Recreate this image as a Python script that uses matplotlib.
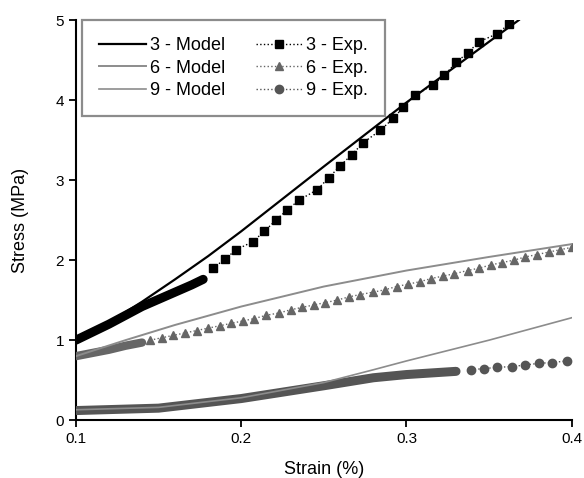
import matplotlib
matplotlib.use("Agg")
import matplotlib.pyplot as plt

plt.rcParams["font.family"] = ["Liberation Sans", "DejaVu Sans"]

# model curves
m3_x = [0.10, 0.12, 0.14, 0.16, 0.18, 0.20, 0.25, 0.30, 0.35, 0.368]
m3_y = [1.00, 1.22, 1.48, 1.76, 2.05, 2.36, 3.17, 3.97, 4.73, 5.00]
m6_x = [0.10, 0.13, 0.16, 0.20, 0.25, 0.30, 0.35, 0.40]
m6_y = [0.80, 1.00, 1.19, 1.42, 1.67, 1.87, 2.04, 2.20]
m9_x = [0.10, 0.15, 0.20, 0.25, 0.28, 0.30, 0.35, 0.40]
m9_y = [0.13, 0.16, 0.28, 0.47, 0.63, 0.74, 1.00, 1.28]

# experiments - dense part at low strain
e3d_x = [0.100, 0.110, 0.120, 0.130, 0.140, 0.150, 0.160, 0.170, 0.177]
e3d_y = [1.00, 1.10, 1.20, 1.31, 1.42, 1.51, 1.60, 1.69, 1.76]
e6d_x = [0.100, 0.110, 0.120, 0.130, 0.140]
e6d_y = [0.80, 0.84, 0.88, 0.93, 0.97]
e9d_x = [0.10, 0.15, 0.20, 0.25, 0.28, 0.30, 0.33]
e9d_y = [0.12, 0.15, 0.27, 0.43, 0.53, 0.57, 0.61]

# experiments - sparse markers
e3_x = [0.183, 0.190, 0.197, 0.207, 0.214, 0.221, 0.228, 0.235, 0.246, 0.253,
        0.260, 0.267, 0.274, 0.284, 0.292, 0.298, 0.305, 0.316, 0.323, 0.330,
        0.337, 0.344, 0.355, 0.362]
e3_y = [1.90, 2.01, 2.13, 2.23, 2.36, 2.50, 2.63, 2.75, 2.88, 3.03,
        3.18, 3.32, 3.47, 3.62, 3.77, 3.91, 4.06, 4.19, 4.31, 4.47,
        4.59, 4.73, 4.83, 4.95]
e6_x = [0.145, 0.152, 0.159, 0.166, 0.173, 0.180, 0.187, 0.194, 0.201, 0.208,
        0.215, 0.223, 0.230, 0.237, 0.244, 0.251, 0.258, 0.265, 0.272, 0.280,
        0.287, 0.294, 0.301, 0.308, 0.315, 0.322, 0.329, 0.337, 0.344, 0.351,
        0.358, 0.365, 0.372, 0.379, 0.386, 0.393, 0.400]
e6_y = [1.00, 1.03, 1.06, 1.09, 1.12, 1.15, 1.18, 1.21, 1.24, 1.27,
        1.31, 1.34, 1.38, 1.41, 1.44, 1.47, 1.50, 1.54, 1.57, 1.60,
        1.63, 1.67, 1.70, 1.73, 1.77, 1.80, 1.83, 1.87, 1.90, 1.94,
        1.97, 2.00, 2.04, 2.07, 2.10, 2.13, 2.16]
e9_x = [0.339, 0.347, 0.355, 0.364, 0.372, 0.380, 0.388, 0.397]
e9_y = [0.63, 0.645, 0.66, 0.67, 0.69, 0.71, 0.72, 0.74]

black = "black"
gray6 = "#666666"
gray9 = "#555555"
lgray = "#8c8c8c"

fig = plt.figure(figsize=(5.84, 4.78), dpi=100)
ax = fig.add_axes([0.130, 0.121, 0.849, 0.837])

# dense bands (drawn as thick strokes)
ax.plot(e3d_x, e3d_y, color=black, lw=6.5, solid_capstyle="round", zorder=3)
ax.plot(e6d_x, e6d_y, color=gray6, lw=6, solid_capstyle="round", zorder=3)
ax.plot(e9d_x, e9d_y, color=gray9, lw=6.5, solid_capstyle="round", zorder=3)

l1, = ax.plot(m3_x, m3_y, color=black, lw=1.6, zorder=4)
l2, = ax.plot(m6_x, m6_y, color=lgray, lw=1.4, zorder=4)
l3, = ax.plot(m9_x, m9_y, color=lgray, lw=1.2, zorder=4)

p1, = ax.plot(e3_x, e3_y, ls=":", color=black, marker="s", ms=5.5, lw=1, zorder=3)
p2, = ax.plot(e6_x, e6_y, ls=":", color=gray6, marker="^", ms=5.5, lw=1, zorder=3)
p3, = ax.plot(e9_x, e9_y, ls=":", color=gray9, marker="o", ms=6, lw=1, zorder=3)

ax.set_xlim(0.1, 0.4)
ax.set_ylim(0, 5)
ax.set_xticks([0.1, 0.2, 0.3, 0.4])
ax.set_xticklabels(["0.1", "0.2", "0.3", "0.4"])
ax.set_yticks([0, 1, 2, 3, 4, 5])
ax.spines["top"].set_visible(False)
ax.spines["right"].set_visible(False)
for s in ["left", "bottom"]:
    ax.spines[s].set_linewidth(1.5)
ax.tick_params(direction="out", length=5, width=1.3, labelsize=11)
ax.set_xlabel("Strain (%)", fontsize=13, labelpad=11)
ax.set_ylabel("Stress (MPa)", fontsize=13, labelpad=19)

leg = ax.legend([l1, l2, l3, p1, p2, p3],
                ["3 - Model", "6 - Model", "9 - Model", "3 - Exp.", "6 - Exp.", "9 - Exp."],
                ncol=2, loc="upper left", bbox_to_anchor=(0.012, 1.0),
                borderaxespad=0, fancybox=False, fontsize=13,
                handlelength=2.6, labelspacing=0.3, columnspacing=1.7,
                handletextpad=0.2, borderpad=0.95)
leg.get_frame().set_edgecolor("#707070")
leg.get_frame().set_linewidth(1.6)

fig.savefig("out.png", dpi=100)
